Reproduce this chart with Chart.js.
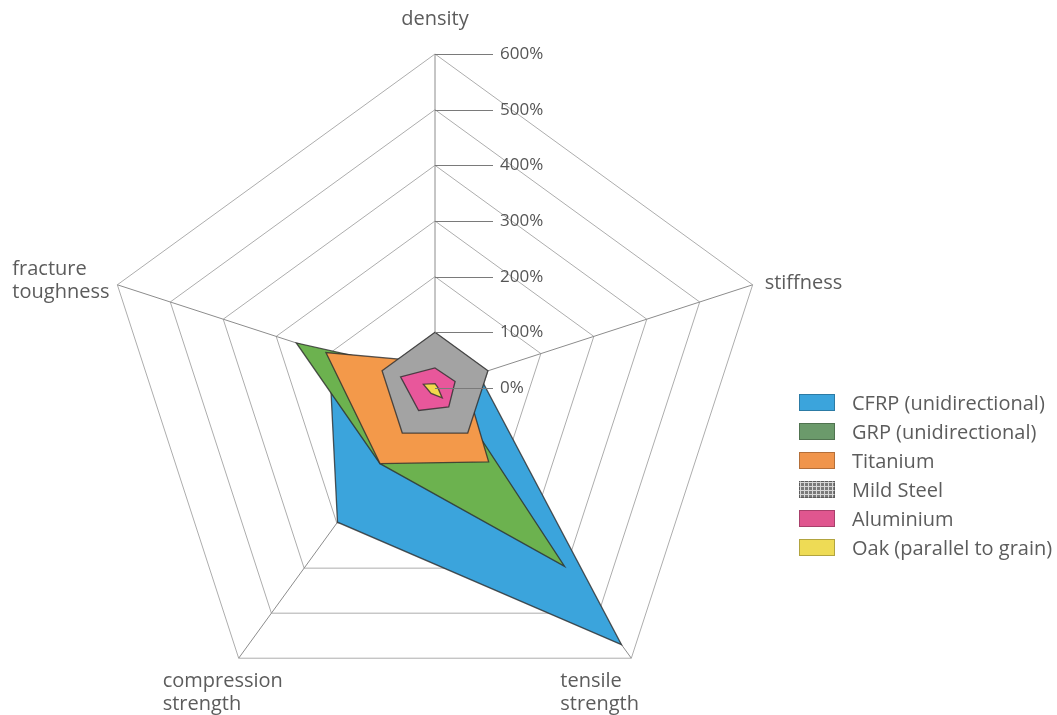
<!DOCTYPE html>
<html>
<head>
<meta charset="utf-8">
<title>Material properties relative to mild steel</title>
<script src="https://cdn.jsdelivr.net/npm/chart.js@4.4.0/dist/chart.umd.min.js"></script>
<style>
  html, body { margin: 0; padding: 0; background: #fff; overflow: hidden; }
  body { width: 1057px; height: 715px; position: relative; font-family: "Open Sans", sans-serif; }
  #wrap { position: absolute; left: 0; top: 0; width: 1057px; height: 740px; }
  #legend { position: absolute; left: 799px; top: 388px; }
  .row { display: flex; align-items: center; height: 29px; }
  .box { width: 34px; height: 15px; border: 1px solid rgba(0,0,0,0.25); }
  .row span { margin-left: 17px; font-size: 20px; color: #5c5c5c; white-space: nowrap; }
</style>
</head>
<body>
<div id="wrap"><canvas id="radar"></canvas></div>
<div id="legend"></div>

<script>
// axes, clockwise from the top
const axes = [['density'], ['stiffness'], ['tensile', 'strength'], ['compression', 'strength'], ['fracture', 'toughness']];
const tickValues = [0, 100, 200, 300, 400, 500, 600];

// values in % of mild steel, same order as axes
const cfrp = [20, 82, 570, 298, 200];
const grp = [25, 20, 396, 168, 262];
const titanium = [46, 55, 164, 168, 206];
const mildSteel = [100, 100, 100, 100, 100];
const aluminium = [36, 38, 42, 50, 65];
const oak = [8, 5, 22, 12, 22];

const materials = ['CFRP (unidirectional)', 'GRP (unidirectional)', 'Titanium', 'Mild Steel', 'Aluminium', 'Oak (parallel to grain)'];
const fills = ['#3ba4dc', '#6cb24f', '#f3994a', '#a3a3a3', '#e8579b', '#f2d94c'];
const legendFills = ['#3ba4dc', '#6b9a6b', '#f0954c', '#7a7a7a', '#e0568f', '#eedb55'];
const series = [cfrp, grp, titanium, mildSteel, aluminium, oak];

// axis names and % ticks drawn beside the scale
const axisText = {
  id: 'axisText',
  afterDatasetsDraw(chart) {
    const r = chart.scales.r;
    const ctx = chart.ctx;
    ctx.save();
    ctx.textBaseline = 'middle';
    ctx.textAlign = 'left';
    ctx.font = '17px "Open Sans"';
    tickValues.forEach(v => {
      const y = Math.round(r.yCenter - r.getDistanceFromCenterForValue(v)) + 0.5;
      ctx.strokeStyle = '#7a7a7a';
      ctx.lineWidth = 1;
      ctx.beginPath();
      ctx.moveTo(r.xCenter, y);
      ctx.lineTo(r.xCenter + 58, y);
      ctx.stroke();
      ctx.fillStyle = '#555';
      ctx.fillText(v + '%', r.xCenter + 65, y);
    });

    // where each axis name sits relative to its outer vertex
    const place = [
      { dx: 0, dy: -35, align: 'center' },
      { dx: 12, dy: -1, align: 'left' },
      { dx: -71, dy: 23, align: 'left' },
      { dx: -76, dy: 23, align: 'left' },
      { dx: -105, dy: -15, align: 'left' }
    ];
    ctx.font = '20px "Open Sans"';
    ctx.fillStyle = '#5c5c5c';
    axes.forEach((lines, i) => {
      const p = r.getPointPosition(i, r.drawingArea);
      ctx.textAlign = place[i].align;
      lines.forEach((t, k) => {
        ctx.fillText(t, p.x + place[i].dx, p.y + place[i].dy + k * 23);
      });
    });
    ctx.restore();
  }
};

new Chart(document.getElementById('radar'), {
  type: 'radar',
  data: {
    labels: axes,
    datasets: series.map((d, i) => ({
      label: materials[i],
      data: d,
      backgroundColor: fills[i],
      borderColor: 'rgba(45,45,45,0.8)',
      borderWidth: 1.3,
      pointRadius: 0,
      fill: true,
      order: series.length - i
    }))
  },
  options: {
    responsive: true,
    maintainAspectRatio: false,
    animation: false,
    layout: { padding: { left: 101, top: 54, right: 288, bottom: 18 } },
    plugins: { legend: { display: false }, tooltip: { enabled: false } },
    elements: { line: { tension: 0 } },
    scales: {
      r: {
        min: 0,
        max: 600,
        ticks: { stepSize: 100, display: false },
        grid: { color: '#adadad', lineWidth: 1 },
        angleLines: { color: '#8c8c8c', lineWidth: 1 },
        pointLabels: { display: false }
      }
    }
  },
  plugins: [axisText]
});

// legend
const legend = document.getElementById('legend');
materials.forEach((name, i) => {
  const row = document.createElement('div');
  row.className = 'row';
  const box = document.createElement('div');
  box.className = 'box';
  box.style.backgroundColor = legendFills[i];
  if (name === 'Mild Steel') {
    box.style.backgroundImage = 'linear-gradient(#d8d8d8 1px, transparent 1px), linear-gradient(90deg, #d8d8d8 1px, transparent 1px)';
    box.style.backgroundSize = '4px 4px';
  }
  const label = document.createElement('span');
  label.textContent = name;
  row.appendChild(box);
  row.appendChild(label);
  legend.appendChild(row);
});
</script>
</body>
</html>
